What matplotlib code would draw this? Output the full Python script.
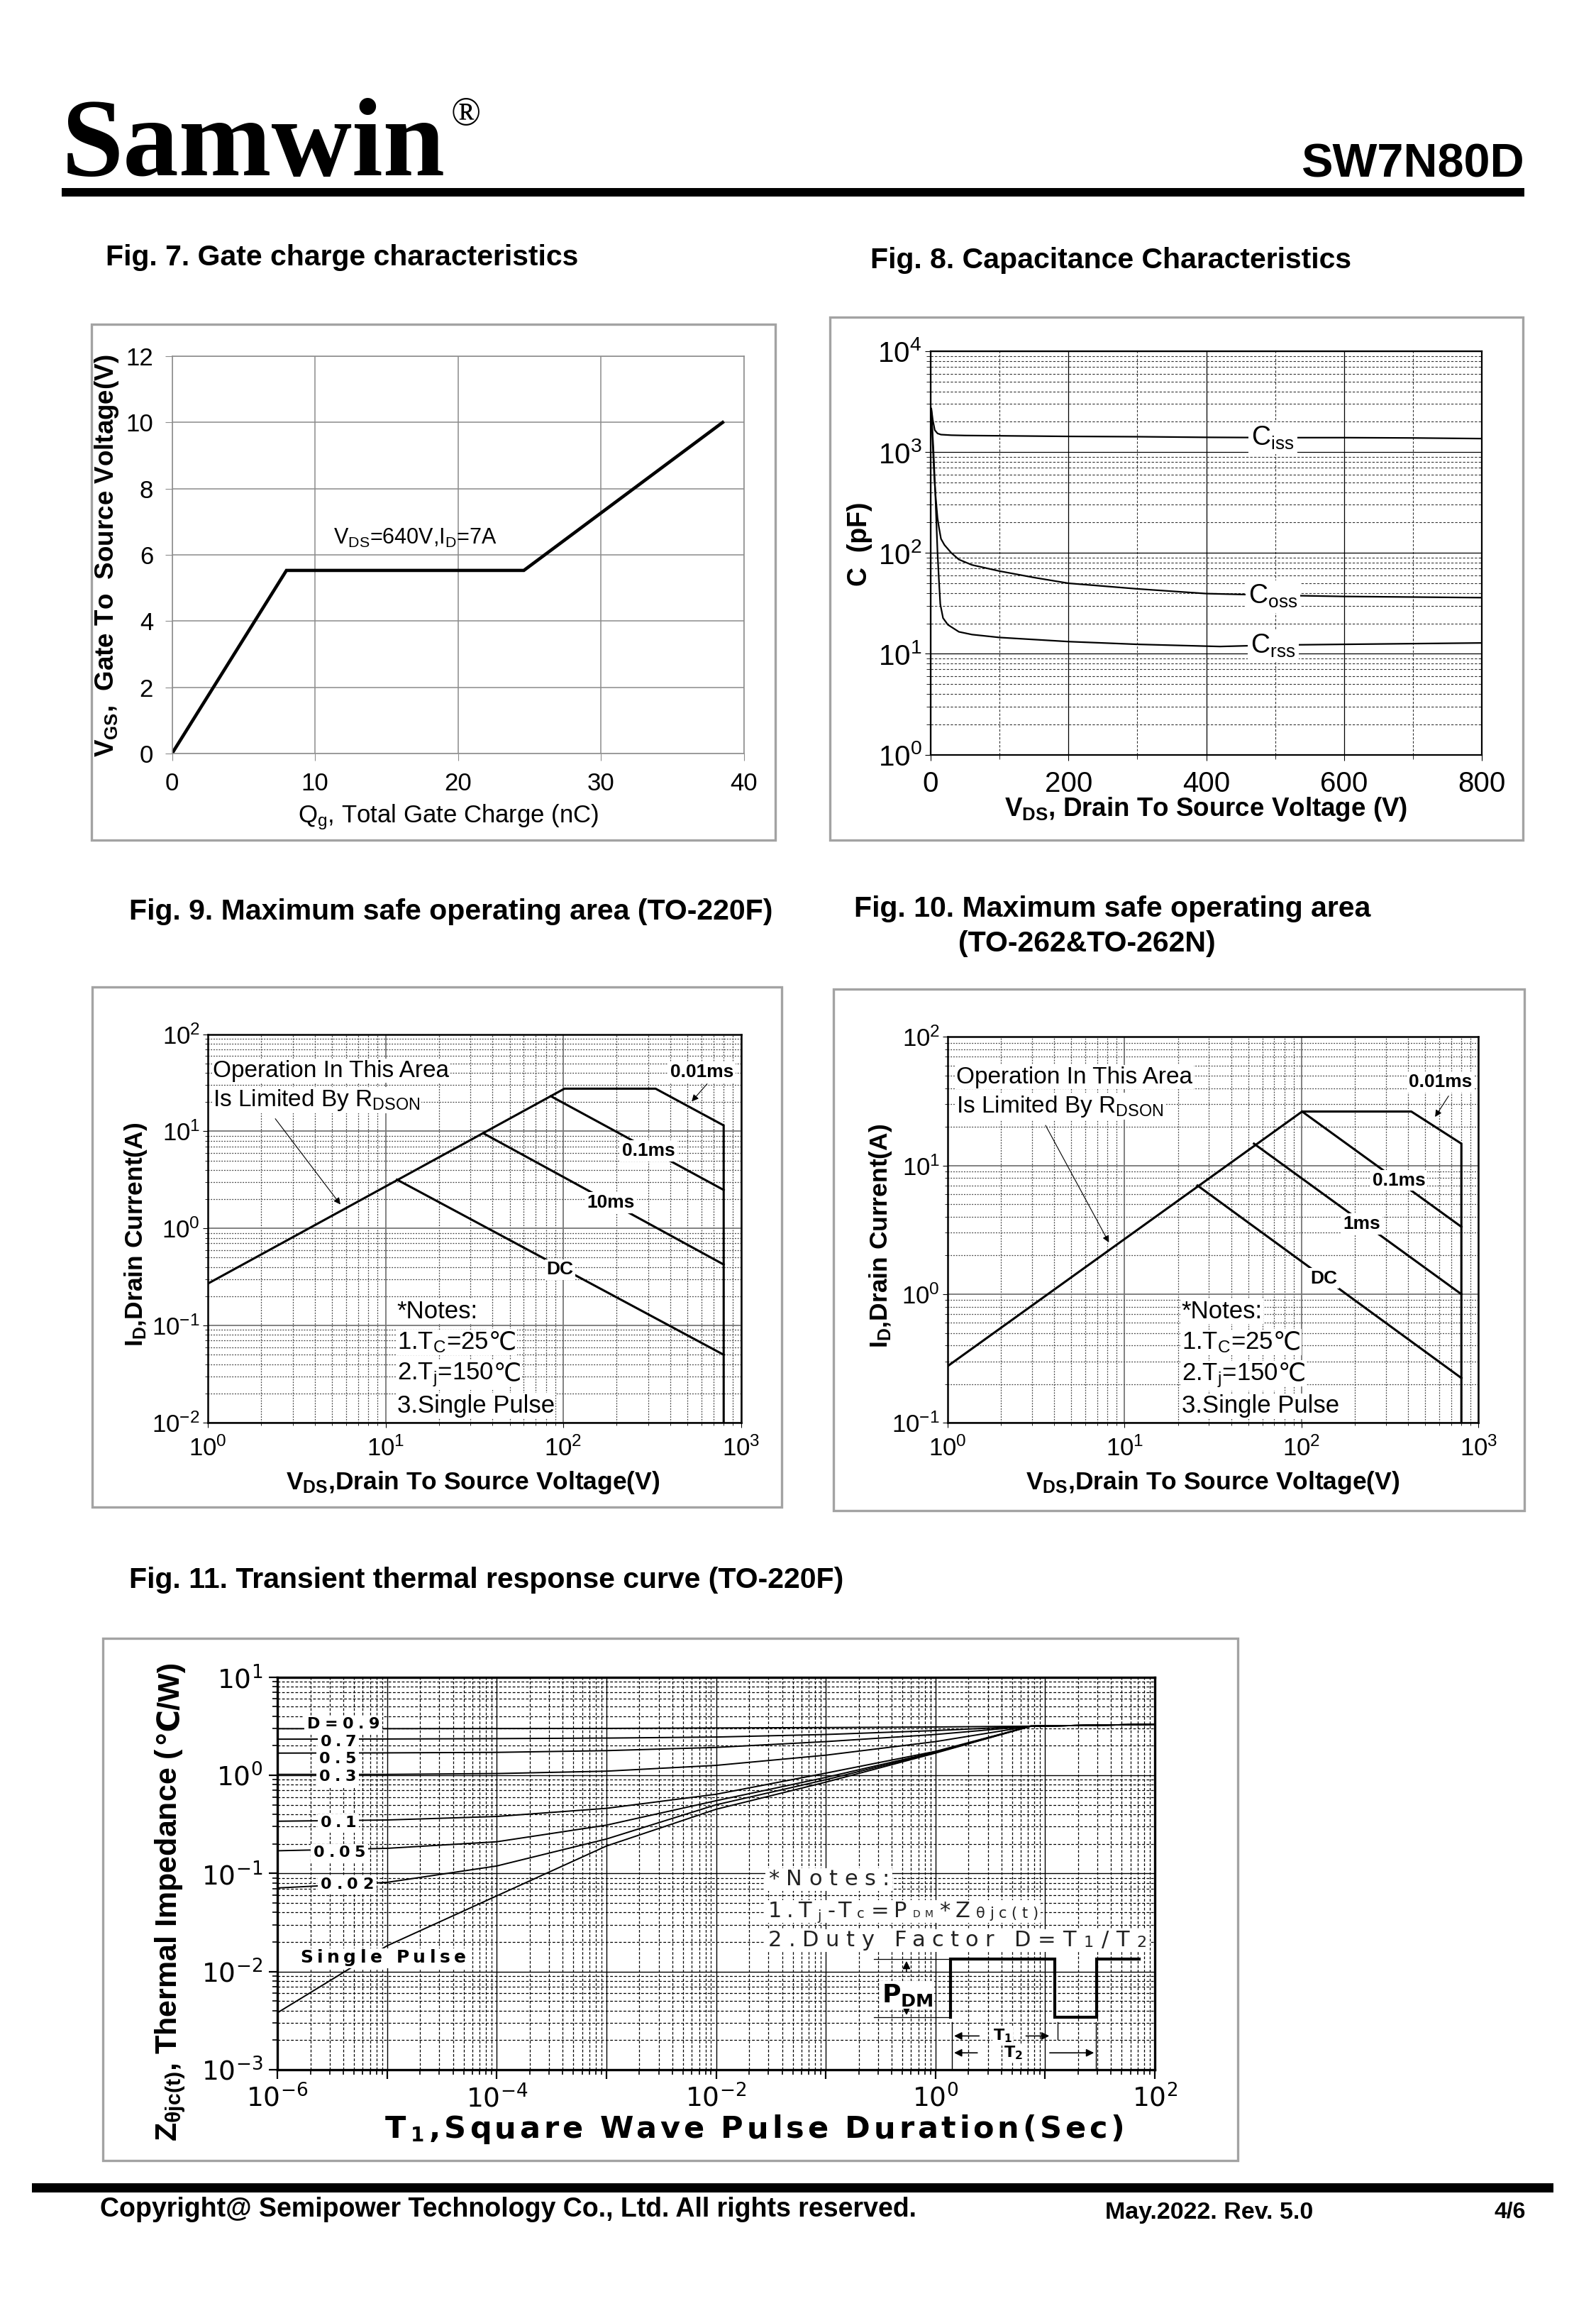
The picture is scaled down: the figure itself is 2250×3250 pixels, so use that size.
import numpy as np
import matplotlib
matplotlib.use('Agg')
import matplotlib.pyplot as plt
from matplotlib.patches import Rectangle
from matplotlib.ticker import LogLocator, FuncFormatter, NullFormatter, FixedLocator

SANS = ['Liberation Sans', 'DejaVu Sans']
WIDE = ['DejaVu Sans']
SERIF = ['Liberation Serif', 'DejaVu Serif']
plt.rcParams['font.family'] = SANS

# ---- Fig. 7 gate charge ----
qg_nc = [0, 8.0, 24.6, 38.5]
vgs_v = [0, 5.53, 5.53, 10.0]

# ---- Fig. 8 capacitance ----
vds_ciss = [1, 3, 6, 10, 15, 30, 50, 100, 200, 300, 400, 500, 600, 700, 800]
ciss_pf = [2700, 2100, 1650, 1530, 1490, 1470, 1460, 1450, 1430, 1420, 1400, 1390, 1390, 1380, 1360]
vds_coss = [1, 3, 5.3, 7, 10, 12, 15, 20, 30, 41, 60, 100, 150, 200, 300, 400, 500, 600, 800]
coss_pf = [2600, 1200, 565, 380, 220, 180, 138, 120, 100, 86, 76, 66, 57, 50, 44, 39.5, 38, 37, 36]
vds_crss = [1, 2, 4, 7, 10, 12, 14, 18, 25, 41, 60, 100, 200, 300, 420, 500, 600, 800]
crss_pf = [2500, 1900, 1070, 355, 100, 54, 31, 22.6, 19.4, 16.5, 15.5, 14.5, 13.2, 12.4, 11.8, 12.2, 12.4, 12.8]

# ---- Fig. 9 SOA TO-220F ----
soa9_lim_v = [1, 101.6, 331, 800, 800]
soa9_lim_i = [0.27, 27.5, 27.5, 11.5, 0.01]
soa9_01ms_v = [85.2, 800]
soa9_01ms_i = [23, 2.49]
soa9_10ms_v = [35.5, 800]
soa9_10ms_i = [9.55, 0.425]
soa9_dc_v = [11.6, 800]
soa9_dc_i = [3.18, 0.05]

# ---- Fig. 10 SOA TO-262 ----
soa10_lim_v = [1, 100.7, 417, 800, 800]
soa10_lim_i = [0.276, 26.3, 26.3, 14.8, 0.1]
soa10_01ms_v = [100.7, 800]
soa10_01ms_i = [26.3, 3.34]
soa10_1ms_v = [53.8, 800]
soa10_1ms_i = [14.8, 1.0]
soa10_dc_v = [25.8, 800]
soa10_dc_i = [7.0, 0.223]

# ---- Fig. 11 transient thermal ----
t_pulse = [1e-6, 1e-5, 1e-4, 1e-3, 1e-2, 1e-1, 1, 7.4, 100]
zth_d09 = [2.98, 2.98, 2.99, 3.0, 3.03, 3.06, 3.1, 3.16, 3.3]
zth_d07 = [2.33, 2.34, 2.36, 2.39, 2.45, 2.6, 2.85, 3.16, 3.3]
zth_d05 = [1.68, 1.69, 1.71, 1.78, 1.92, 2.2, 2.6, 3.16, 3.3]
zth_d03 = [1.02, 1.02, 1.04, 1.1, 1.26, 1.6, 2.2, 3.16, 3.3]
zth_d01 = [0.34, 0.35, 0.38, 0.46, 0.64, 1.05, 1.75, 3.16, 3.3]
zth_d005 = [0.17, 0.18, 0.21, 0.31, 0.55, 0.95, 1.72, 3.16, 3.3]
zth_d002 = [0.071, 0.081, 0.119, 0.224, 0.5, 0.9, 1.70, 3.16, 3.3]
zth_single = [0.0038, 0.0183, 0.059, 0.19, 0.45, 0.85, 1.68, 3.16, 3.3]
d_labels = ['D=0.9', '0.7', '0.5', '0.3', '0.1', '0.05', '0.02', 'Single Pulse']
d_label_size = [16, 16, 16, 16, 16, 16, 16, 18]
# label boxes in page pixels: left, right, baseline
d_label_l = [433, 452, 450, 450, 452, 442, 452, 423]
d_label_r = [535, 502, 502, 502, 502, 515, 527, 657]
d_label_b = [2436, 2461, 2485, 2510, 2575, 2617, 2662, 2766]

W, H = 2250, 3250
fig = plt.figure(figsize=(22.5, 32.5), dpi=100)
renderer = fig.canvas.get_renderer()
WHITE = dict(fc='white', ec='none', pad=1)


def fx(x):
    return x / W


def fy(y):
    return 1 - y / H


def add_ax(l, t, r, b):
    return fig.add_axes([l / W, 1 - b / H, (r - l) / W, (b - t) / H])


def frame(l, t, r, b):
    fig.add_artist(Rectangle((l / W, 1 - b / H), (r - l) / W, (b - t) / H,
                             transform=fig.transFigure, fill=False,
                             ec='#a3a3a3', lw=2.4))


def bar(l, t, r, b, color='black', z=1):
    fig.add_artist(Rectangle((l / W, 1 - b / H), (r - l) / W, (b - t) / H,
                             transform=fig.transFigure, color=color, lw=0, zorder=z))


def pow_fmt(v, pos):
    return r'$\mathregular{10^{%d}}$' % int(round(np.log10(v)))


def pow_fmt_even(v, pos):
    e = int(round(np.log10(v)))
    return r'$\mathregular{10^{%d}}$' % e if e % 2 == 0 else ''


def log_minor(axis):
    axis.set_minor_locator(LogLocator(base=10, subs=np.arange(2, 10), numticks=100))
    axis.set_minor_formatter(NullFormatter())


def text_w(s, size, **kw):
    t = fig.text(0, 0, s, fontsize=size, **kw)
    w = t.get_window_extent(renderer).width
    t.remove()
    return w


def tracked(x0, base, parts, target_w=None, track=0.0, bg=False, **kw):
    """letter-spaced text; parts = (text, size, drop_px); page pixel coords"""
    layout = []
    start = 0.0
    g = 0
    for s, size, dy in parts:
        for i, ch in enumerate(s):
            if ch != ' ':
                left = text_w(s[:i + 1], size, **kw) - text_w(ch, size, **kw)
                layout.append((ch, size, dy, start + left, g))
            g += 1
        start += text_w(s, size, **kw) + 2
    natural = start - 2
    if target_w is not None:
        track = (target_w - natural) / (g - 1)
    for ch, size, dy, xr, gi in layout:
        fig.text((x0 + xr + gi * track) / W, 1 - (base + dy) / H, ch, fontsize=size,
                 va='baseline', ha='left', zorder=4, **kw)
    x_end = x0 + natural + (g - 1) * track
    if bg:
        top = base - max(p[1] for p in parts) * 100 / 72 * 0.8
        bar(x0 - 4, top, x_end + 4, base + 8, color='white', z=2)
    return x_end


def note_line(ax, x, y, s1, s2=None, size=25):
    xd, yd = ax.transData.transform((x, y))
    yb = yd - 0.36 * size * 100 / 72
    t = fig.text(xd / W, yb / H, s1, fontsize=size, va='baseline', ha='left', zorder=4, bbox=WHITE)
    if s2:
        x1 = t.get_window_extent(renderer).x1
        fig.text(x1 / W, yb / H, s2, fontsize=size, family=WIDE, va='baseline', ha='left',
                 zorder=4, bbox=WHITE)


# ---------- header / footer ----------
fig.text(fx(87), fy(247), 'Samwin', fontsize=113, family=SERIF, fontweight='bold', va='baseline')
fig.text(fx(636), fy(176), '®', fontsize=40, family=SERIF, va='baseline')
fig.text(fx(2149), fy(249), 'SW7N80D', fontsize=48, fontweight='bold', ha='right', va='baseline')
bar(87, 265, 2149, 277)
bar(45, 3077, 2190, 3090)
fig.text(fx(141), fy(3114), 'Copyright@ Semipower Technology Co., Ltd. All rights reserved.',
         fontsize=27, fontweight='bold', va='center')
fig.text(fx(1558), fy(3118), 'May.2022. Rev. 5.0', fontsize=24.5, fontweight='bold', va='center')
fig.text(fx(2151), fy(3118), '4/6', fontsize=23, fontweight='bold', va='center', ha='right')

title_kw = dict(fontsize=29.5, fontweight='bold', va='center', ha='left')
fig.text(fx(149), fy(363), 'Fig. 7. Gate charge characteristics', **title_kw)
fig.text(fx(1227), fy(367), 'Fig. 8. Capacitance Characteristics', **title_kw)
fig.text(fx(182), fy(1285), 'Fig. 9. Maximum safe operating area (TO-220F)', **title_kw)
fig.text(fx(1204), fy(1281), 'Fig. 10. Maximum safe operating area', **title_kw)
fig.text(fx(1351), fy(1330), '(TO-262&TO-262N)', **title_kw)
fig.text(fx(182), fy(2227), 'Fig. 11. Transient thermal response curve (TO-220F)', **title_kw)

# ---------- Fig. 7 ----------
frame(129, 457, 1093, 1184)
ax7 = add_ax(242.5, 502, 1049, 1062)
ax7.plot(qg_nc, vgs_v, color='black', lw=3.3, solid_joinstyle='miter')
ax7.set_xlim(0, 40)
ax7.set_ylim(0, 12)
ax7.set_xticks(range(0, 41, 10))
ax7.set_yticks(range(0, 13, 2))
ax7.grid(color='#8c8c8c', lw=1.1)
ax7.set_axisbelow(True)
for s in ax7.spines.values():
    s.set_color('#8c8c8c')
    s.set_linewidth(1.1)
ax7.tick_params(direction='out', length=7, color='#8c8c8c', labelsize=25, pad=12)
ax7.text(11.3, 6.5, r'V$\mathregular{_{DS}}$=640V,I$\mathregular{_D}$=7A', fontsize=22, va='center')
fig.text(fx(151), fy(783), r'V$\mathregular{_{GS}}$,  Gate To  Source Voltage(V)', rotation=90,
         fontsize=26.5, fontweight='bold', ha='center', va='center')
fig.text(fx(632), fy(1152), r'Q$\mathregular{_g}$, Total Gate Charge (nC)', fontsize=25,
         ha='center', va='center')

# ---------- Fig. 8 ----------
frame(1170, 447, 2147, 1184)
ax8 = add_ax(1312, 495, 2089, 1063.5)
ax8.set_yscale('log')
ax8.plot(vds_ciss, ciss_pf, color='black', lw=1.6)
ax8.plot(vds_coss, coss_pf, color='black', lw=1.6)
ax8.plot(vds_crss, crss_pf, color='black', lw=1.6)
ax8.set_xlim(0, 800)
ax8.set_ylim(1, 1e4)
ax8.set_xticks([0, 200, 400, 600, 800])
ax8.xaxis.set_minor_locator(FixedLocator([100, 300, 500, 700]))
ax8.yaxis.set_major_locator(LogLocator(base=10, numticks=10))
ax8.yaxis.set_major_formatter(FuncFormatter(pow_fmt))
log_minor(ax8.yaxis)
ax8.grid(which='major', color='black', lw=0.9)
ax8.grid(which='minor', color='#333333', lw=0.8, ls=(0, (3, 2)))
ax8.set_axisbelow(True)
for s in ax8.spines.values():
    s.set_linewidth(1.6)
ax8.tick_params(which='major', direction='out', length=6, labelsize=29, pad=3)
ax8.tick_params(which='minor', direction='out', length=4)
ax8.tick_params(axis='x', which='major', pad=10)
lab_kw = dict(fontsize=27, ha='center', va='center', zorder=5,
              bbox=dict(fc='white', ec='none', pad=3))
ax8.text(497, 1370, r'C$\mathregular{_{iss}}$', **lab_kw)
ax8.text(497, 36.9, r'C$\mathregular{_{oss}}$', **lab_kw)
ax8.text(497, 11.9, r'C$\mathregular{_{rss}}$', **lab_kw)
fig.text(fx(1212), fy(767), 'C  (pF)', rotation=90, fontsize=27,
         fontweight='bold', ha='center', va='center')
fig.text(fx(1700), fy(1140), r'V$\mathregular{_{DS}}$, Drain To Source Voltage (V)', fontsize=26.5,
         fontweight='bold', ha='center', va='center')


# ---------- SOA helper ----------
def soa_axes(ax, ymin):
    ax.set_xscale('log')
    ax.set_yscale('log')
    ax.set_xlim(1, 1000)
    ax.set_ylim(ymin, 100)
    for axis in (ax.xaxis, ax.yaxis):
        axis.set_major_locator(LogLocator(base=10, numticks=10))
        axis.set_major_formatter(FuncFormatter(pow_fmt))
        log_minor(axis)
    ax.grid(which='major', color='#777777', lw=1.3)
    ax.grid(which='minor', color='#444444', lw=0.9, ls=(0, (1.5, 1.5)))
    ax.set_axisbelow(True)
    for s in ax.spines.values():
        s.set_linewidth(1.8)
    ax.tick_params(which='major', direction='out', length=5, labelsize=25, pad=3)
    ax.tick_params(which='minor', direction='out', length=3)
    ax.tick_params(axis='x', which='major', pad=9)


ms_kw = dict(fontsize=19, fontweight='bold', ha='center', va='center', zorder=5,
             bbox=dict(fc='white', ec='none', pad=2))
op_kw = dict(fontsize=24, ha='left', va='center', zorder=5, bbox=WHITE)
arrow_kw = dict(arrowstyle='-|>', color='black', lw=0.8, mutation_scale=14)

# ---------- Fig. 9 ----------
frame(129.5, 1391, 1102, 2124)
ax9 = add_ax(293, 1457.6, 1044.5, 2005)
soa_axes(ax9, 0.01)
for v, i in [(soa9_lim_v, soa9_lim_i), (soa9_01ms_v, soa9_01ms_i),
             (soa9_10ms_v, soa9_10ms_i), (soa9_dc_v, soa9_dc_i)]:
    ax9.plot(v, i, color='black', lw=2.2, solid_joinstyle='miter')
ax9.text(302, 6.25, '0.1ms', **ms_kw)
ax9.text(185, 1.84, '10ms', **ms_kw)
ax9.text(96, 0.376, 'DC', **ms_kw)
ax9.text(603, 40.8, '0.01ms', **ms_kw)
ax9.annotate('', xy=(520, 19.6), xytext=(656, 31.9), arrowprops=arrow_kw)
ax9.text(1.07, 42, 'Operation In This Area', **op_kw)
ax9.text(1.07, 21, r'Is Limited By R$\mathregular{_{DSON}}$', **op_kw)
ax9.annotate('', xy=(5.66, 1.7), xytext=(2.36, 14), arrowprops=arrow_kw)
note_line(ax9, 11.6, 0.147, '*Notes:')
note_line(ax9, 11.6, 0.0708, r'1.T$\mathregular{_C}$=25', '℃')
note_line(ax9, 11.6, 0.034, r'2.T$\mathregular{_j}$=150', '℃')
note_line(ax9, 11.6, 0.0157, '3.Single Pulse')
fig.text(fx(192), fy(1740), r'I$\mathregular{_D}$,Drain Current(A)', rotation=90, fontsize=25.5,
         fontweight='bold', ha='center', va='center')
fig.text(fx(667), fy(2090), r'V$\mathregular{_{DS}}$,Drain To Source Voltage(V)', fontsize=25.5,
         fontweight='bold', ha='center', va='center')

# ---------- Fig. 10 ----------
frame(1174.5, 1394, 2148.5, 2129)
ax10 = add_ax(1336, 1461.4, 2084.4, 2005.3)
soa_axes(ax10, 0.1)
for v, i in [(soa10_lim_v, soa10_lim_i), (soa10_01ms_v, soa10_01ms_i),
             (soa10_1ms_v, soa10_1ms_i), (soa10_dc_v, soa10_dc_i)]:
    ax10.plot(v, i, color='black', lw=2.2, solid_joinstyle='miter')
ax10.text(355, 7.67, '0.1ms', **ms_kw)
ax10.text(219, 3.5, '1ms', **ms_kw)
ax10.text(133, 1.33, 'DC', **ms_kw)
ax10.text(611, 44.4, '0.01ms', **ms_kw)
ax10.annotate('', xy=(560, 23.2), xytext=(687, 35.8), arrowprops=arrow_kw)
ax10.text(1.12, 48.6, 'Operation In This Area', **op_kw)
ax10.text(1.12, 28.9, r'Is Limited By R$\mathregular{_{DSON}}$', **op_kw)
ax10.annotate('', xy=(8.25, 2.45), xytext=(3.53, 21.2), arrowprops=arrow_kw)
note_line(ax10, 21, 0.76, '*Notes:')
note_line(ax10, 21, 0.44, r'1.T$\mathregular{_C}$=25', '℃')
note_line(ax10, 21, 0.25, r'2.T$\mathregular{_j}$=150', '℃')
note_line(ax10, 21, 0.14, '3.Single Pulse')
fig.text(fx(1241), fy(1742), r'I$\mathregular{_D}$,Drain Current(A)', rotation=90, fontsize=25.5,
         fontweight='bold', ha='center', va='center')
fig.text(fx(1710), fy(2090), r'V$\mathregular{_{DS}}$,Drain To Source Voltage(V)', fontsize=25.5,
         fontweight='bold', ha='center', va='center')

# ---------- Fig. 11 ----------
frame(144.6, 2308.6, 1745, 3045)
ax11 = add_ax(391, 2363.6, 1628, 2917)
ax11.set_xscale('log')
ax11.set_yscale('log')
zth_all = [zth_d09, zth_d07, zth_d05, zth_d03, zth_d01, zth_d005, zth_d002, zth_single]
for z in zth_all:
    ax11.plot(t_pulse, z, color='black', lw=1.4)
ax11.set_xlim(1e-6, 1e2)
ax11.set_ylim(1e-3, 1e1)
ax11.xaxis.set_major_locator(LogLocator(base=10, numticks=20))
ax11.xaxis.set_major_formatter(FuncFormatter(pow_fmt_even))
ax11.yaxis.set_major_locator(LogLocator(base=10, numticks=20))
ax11.yaxis.set_major_formatter(FuncFormatter(pow_fmt))
log_minor(ax11.xaxis)
log_minor(ax11.yaxis)
ax11.grid(which='major', color='black', lw=1.0)
ax11.grid(which='minor', color='black', lw=0.9, ls=(0, (3, 2)))
ax11.set_axisbelow(True)
for s in ax11.spines.values():
    s.set_linewidth(2.4)
ax11.tick_params(which='major', direction='out', length=9, width=1.6, labelsize=27, pad=6,
                 labelfontfamily='DejaVu Sans')
ax11.tick_params(which='minor', direction='out', length=5, width=1.2)

for lbl, sz, l, r, b in zip(d_labels, d_label_size, d_label_l, d_label_r, d_label_b):
    tracked(l, b, [(lbl, sz, 0)], target_w=r - l, bg=True, family=WIDE, fontweight='bold')

n11 = dict(family=WIDE, color='#222222')
tracked(1083, 2657, [('*Notes:', 22, 0)], target_w=171, bg=True, **n11)
tracked(1083, 2702, [('1.T', 22, 0), ('j', 14, 4), ('-T', 22, 0), ('c', 14, 1), ('=P', 22, 0),
                     ('DM', 10, 0), ('*Z', 22, 0), ('θjc(t)', 15, 1)], target_w=380, bg=True, **n11)
tracked(1083, 2743, [('2.Duty Factor D=T', 22, 0), ('1', 16, 1), ('/T', 22, 0), ('2', 16, 1)],
        target_w=534, bg=True, **n11)

# pulse sketch (axes fraction)
tA = ax11.transAxes
ax11.plot([0.680, 0.767], [0.282, 0.282], color='black', lw=0.9, transform=tA)
ax11.plot([0.680, 0.767], [0.134, 0.134], color='black', lw=0.9, transform=tA)
ax11.plot([0.767, 0.767, 0.886, 0.886, 0.934, 0.934, 0.982],
          [0.134, 0.282, 0.282, 0.134, 0.134, 0.282, 0.282],
          color='black', lw=3, transform=tA, solid_joinstyle='miter')
ax11.text(0.718, 0.19, r'P$\mathregular{_{DM}}$', fontsize=26, family=WIDE, fontweight='bold',
          ha='center', va='center', transform=tA, zorder=5, bbox=WHITE)
pk = dict(arrowstyle='-|>', color='black', lw=1.2, mutation_scale=16)
ax11.annotate('', xy=(0.717, 0.282), xytext=(0.717, 0.245), xycoords=tA, textcoords=tA, arrowprops=pk)
ax11.annotate('', xy=(0.717, 0.134), xytext=(0.717, 0.164), xycoords=tA, textcoords=tA, arrowprops=pk)
ax11.plot([0.769, 0.769], [0.121, 0.0], color='black', lw=1.0, transform=tA)
ax11.plot([0.889, 0.889], [0.121, 0.077], color='black', lw=1.0, transform=tA)
ax11.plot([0.933, 0.933], [0.121, 0.0], color='black', lw=1.0, transform=tA)
for lab, yy, xl, xr, x0, x1 in [(r'T$\mathregular{_1}$', 0.086, 0.802, 0.851, 0.769, 0.882),
                                 (r'T$\mathregular{_2}$', 0.043, 0.80, 0.878, 0.769, 0.933)]:
    ax11.annotate('', xy=(x0, yy), xytext=(xl, yy), xycoords=tA, textcoords=tA, arrowprops=pk)
    ax11.annotate('', xy=(x1, yy), xytext=(xr, yy), xycoords=tA, textcoords=tA, arrowprops=pk)
    ax11.text((xl + xr) / 2, yy, lab, fontsize=16, family=WIDE, fontweight='bold',
              ha='center', va='center', transform=tA, zorder=5, bbox=WHITE)

# y label: two pieces so that the degree sign comes from a font that has it
yl_kw = dict(rotation=90, rotation_mode='anchor', ha='left', va='baseline',
             fontsize=31, fontweight='bold')
t_yl = fig.text(fx(249), fy(3018), r'Z$\mathregular{_{θjc(t)}}$, Thermal Impedance (', **yl_kw)
y_top = t_yl.get_window_extent(renderer).y1
fig.text(fx(249), y_top / H + 0.0015, '℃/W)', **yl_kw)

tracked(543, 3013, [('T', 31, 0), ('1', 20, 5), (',Square Wave Pulse Duration(Sec)', 31, 0)],
        target_w=1042, family=WIDE, fontweight='bold')

fig.savefig('out.png', dpi=100, facecolor='white')
